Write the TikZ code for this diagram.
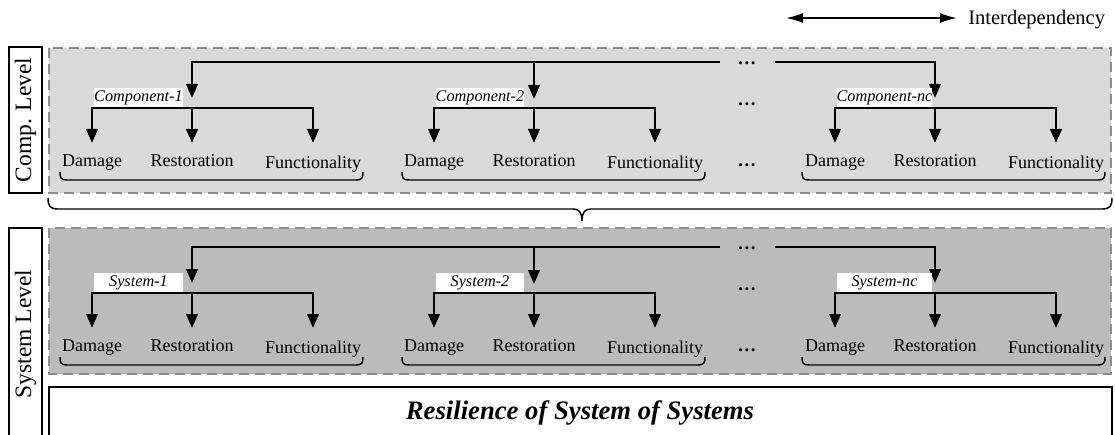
\documentclass[tikz,border=0pt]{standalone}
\usepackage{fontspec}
\setmainfont{Liberation Serif}
\usetikzlibrary{arrows.meta}
\definecolor{panelA}{HTML}{D9D9D9}
\definecolor{panelB}{HTML}{BBBBBB}
\definecolor{dashgray}{HTML}{8C8C8C}
\tikzset{
  panel/.style={draw=dashgray, line width=1.5pt, dash pattern=on 7.5pt off 4.5pt},
  busarrow/.style={line width=2.1pt, -{Triangle[length=10.5pt,width=8.5pt]}},
  bustwo/.style={line width=2.1pt, {Triangle[length=10.5pt,width=8.5pt]}-{Triangle[length=10.5pt,width=8.5pt]}},
  lvl/.style={draw, line width=1.6pt, fill=white},
  lvltext/.style={rotate=90, inner sep=0pt, font=\fontsize{17.6}{20}\selectfont},
  word/.style={font=\fontsize{13.5}{16}\selectfont, inner sep=0pt, anchor=base},
  tag/.style={fill=white, inner sep=0pt, font=\fontsize{12.2}{14}\selectfont\itshape},
  brc/.style={line width=1.1pt},
  dotsn/.style={font=\fontsize{14}{16}\selectfont\bfseries, inner sep=0pt},
}
\begin{document}
\begin{tikzpicture}[x=0.75pt,y=-0.75pt]
\useasboundingbox (0,0) rectangle (1115,435);
\clip (0,0) rectangle (1115,435);

% interdependency legend
\coordinate (ia) at (786,18);
\coordinate (ib) at (957,18);
\draw[line width=1.4pt, {Latex[length=12.75pt,width=7.5pt]}-{Latex[length=12.75pt,width=7.5pt]}] (ia) -- (ib);
\node[anchor=base west, inner sep=0pt, font=\fontsize{15.4}{18}\selectfont] (int) at (968,25) {Interdependency};

% panels
\fill[panelA] (49,48) rectangle (1111,193);
\draw[panel] (49,48) rectangle (1111,193);
\fill[panelB] (49,228) rectangle (1111,374);
\draw[panel] (49,228) rectangle (1111,374);

% level boxes
\draw[lvl] (9,47) rectangle (42,193);
\node[lvltext] (complevel) at (25.5,120) {Comp. Level};
\draw[lvl] (9,228) rectangle (42,450);
\node[lvltext] (syslevel) at (25.5,334) {System Level};

% resilience box
\draw[line width=1.1pt, fill=white] (49,387) rectangle (1112,450);
\node[inner sep=0pt, font=\fontsize{20}{24}\selectfont\bfseries\itshape] (res) at (580,413) {Resilience of System of Systems};

% big brace
\draw[brc] (48,198) .. controls (48,206) and (50,209) .. (58,209) -- (573,209)
  .. controls (579,209) and (582,212) .. (582,221)
  .. controls (582,212) and (585,209) .. (591,209) -- (1102,209)
  .. controls (1110,209) and (1112,206) .. (1112,198);

\foreach \pre/\oy/\nm in {c/0/Component, s/185/System}{
  % top bus
  \coordinate (\pre b1) at (192,62+\oy);
  \coordinate (\pre b1t) at (192,98+\oy);
  \coordinate (\pre bend) at (720,62+\oy);
  \coordinate (\pre b2) at (534,62+\oy);
  \coordinate (\pre b2t) at (534,99+\oy);
  \coordinate (\pre b3s) at (775,62+\oy);
  \coordinate (\pre b3) at (935,62+\oy);
  \coordinate (\pre b3t) at (935,98+\oy);
  \draw[busarrow] (\pre bend) -- (\pre b1) -- (\pre b1t);
  \draw[busarrow] (\pre b2) -- (\pre b2t);
  \draw[busarrow] (\pre b3s) -- (\pre b3) -- (\pre b3t);
  % dots
  \node[dotsn] (\pre dt1) at (747,63+\oy) {\dots};
  \node[dotsn] (\pre dt2) at (747,104+\oy) {\dots};
  \node[dotsn] (\pre dt3) at (747,165+\oy) {\dots};
  \foreach \g/\L/\M/\R/\bx/\bl/\br/\sfx in {1/92/192/313/183/60/363/1, 2/434/534/655/524/402/705/2, 3/835/935/1056/932/802/1105/nc}{
    \pgfmathsetmacro\tw{(\bx-\L-2)*0.75}
    \pgfmathsetmacro\tx{(\L+2+\bx)/2}
    \node[tag, minimum width=\tw pt, minimum height=14.25pt] (\pre\g tag) at (\tx,97.5+\oy) {\nm-\sfx};
    \coordinate (\pre\g sl) at (\L,108+\oy);
    \coordinate (\pre\g sm) at (\M,108+\oy);
    \coordinate (\pre\g sr) at (\R,108+\oy);
    \coordinate (\pre\g tl) at (\L,143+\oy);
    \coordinate (\pre\g tm) at (\M,143+\oy);
    \coordinate (\pre\g tr) at (\R,143+\oy);
    \draw[bustwo] (\pre\g tl) -- (\pre\g sl) -- (\pre\g sr) -- (\pre\g tr);
    \draw[busarrow] (\pre\g sm) -- (\pre\g tm);
    \node[word] (\pre\g dam) at (\L,166.5+\oy) {Damage};
    \node[word] (\pre\g res) at (\M,166.5+\oy) {Restoration};
    \node[word] (\pre\g fun) at (\R,168+\oy) {Functionality};
    \draw[brc] (\bl,172+\oy) .. controls (\bl,178+\oy) and (\bl+1,180+\oy) .. (\bl+7,180+\oy)
      -- (\br-7,180+\oy) .. controls (\br-1,180+\oy) and (\br,178+\oy) .. (\br,172+\oy);
  }
}
\end{tikzpicture}
\end{document}
